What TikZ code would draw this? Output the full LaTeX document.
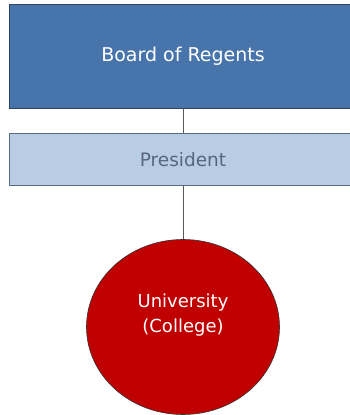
\documentclass[tikz,border=0pt]{standalone}
\usepackage{fontspec}
\setmainfont{DejaVu Sans}
\usetikzlibrary{positioning, shapes.geometric}
\definecolor{boardblue}{RGB}{71,116,170}
\definecolor{boardedge}{RGB}{45,70,100}
\definecolor{presblue}{RGB}{184,204,228}
\definecolor{prestext}{RGB}{88,102,124}
\definecolor{univred}{RGB}{192,0,0}

\begin{document}
\begin{tikzpicture}[
        x=1pt, y=1pt,
        board/.style={rectangle, draw=boardedge, fill=boardblue, line width=0.8pt, minimum width=348pt, minimum height=104pt, text=white, font=\fontsize{19}{23}\selectfont},
        pres/.style={rectangle, draw=boardedge!80, fill=presblue, line width=0.8pt, minimum width=348pt, minimum height=52pt, text=prestext, font=\fontsize{18.5}{22}\selectfont},
        univ/.style={ellipse, draw=black!80, fill=univred, line width=0.6pt, minimum width=193pt, minimum height=175pt, inner sep=0pt, text=white, align=center, font=\fontsize{18}{25}\selectfont},
        link/.style={draw=black!65, line width=0.7pt}
    ]
        \useasboundingbox (0,0) rectangle (349,415);
        % Hierarchy
        \node[board] (board) at (183,359) {Board of Regents};
        \node[pres, below=25pt of board] (president) {President};
        \node[univ, below=53pt of president] (univ) {\raisebox{8pt}[0pt][0pt]{\begin{tabular}{@{}c@{}}University\\(College)\end{tabular}}};

        \draw[link] (board) -- (president);
        \draw[link] (president) -- (univ);
    \end{tikzpicture}
\end{document}
